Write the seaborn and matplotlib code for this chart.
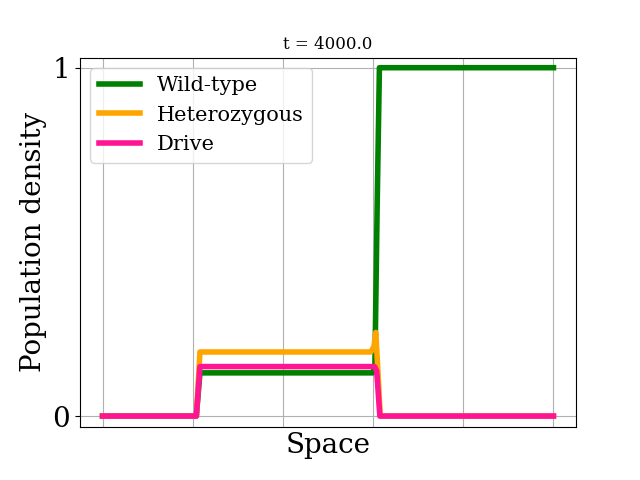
import matplotlib
matplotlib.use("Agg")
import pandas as pd
import seaborn as sns
import matplotlib.pyplot as plt

# profiles (space scaled to 0..1)
wt_x = [0.0, 0.208, 0.216, 0.599, 0.604, 0.609, 0.614, 1.0]
wt_y = [0.0, 0.0, 0.124, 0.124, 0.14, 0.6, 1.0, 1.0]

het_x = [0.0, 0.208, 0.216, 0.595, 0.602, 0.606, 0.611, 0.616, 1.0]
het_y = [0.0, 0.0, 0.184, 0.184, 0.2, 0.24, 0.12, 0.0, 0.0]

drive_x = [0.0, 0.208, 0.216, 0.603, 0.608, 0.615, 1.0]
drive_y = [0.0, 0.0, 0.142, 0.142, 0.13, 0.0, 0.0]

labels = ["Wild-type", "Heterozygous", "Drive"]
colors = ["green", "orange", "deeppink"]

plt.rcParams["font.family"] = ["DejaVu Serif"]

fig, ax = plt.subplots(figsize=(6.4, 4.8), dpi=100)

series = [(wt_x, wt_y), (het_x, het_y), (drive_x, drive_y)]
for (xs, ys), lab, col in zip(series, labels, colors):
    df = pd.DataFrame({"x": xs, "y": ys})
    sns.lineplot(data=df, x="x", y="y", ax=ax, color=col, linewidth=4, label=lab,
                 estimator=None, sort=False)

ax.set_xlim(-0.05, 1.05)
ax.set_ylim(-0.032, 1.029)
ax.set_xticks([0, 0.2, 0.4, 0.6, 0.8, 1.0])
ax.set_xticklabels([])
ax.tick_params(axis="x", length=0)
ax.set_yticks([0, 1])
ax.tick_params(axis="y", labelsize=20)
ax.grid(True)
ax.set_xlabel("Space", fontsize=20, labelpad=0)
ax.set_ylabel("Population density", fontsize=20)
ax.set_title("t = 4000.0", fontsize=12)
ax.legend(loc="upper left", fontsize=15)

fig.savefig("out.png", dpi=100)
